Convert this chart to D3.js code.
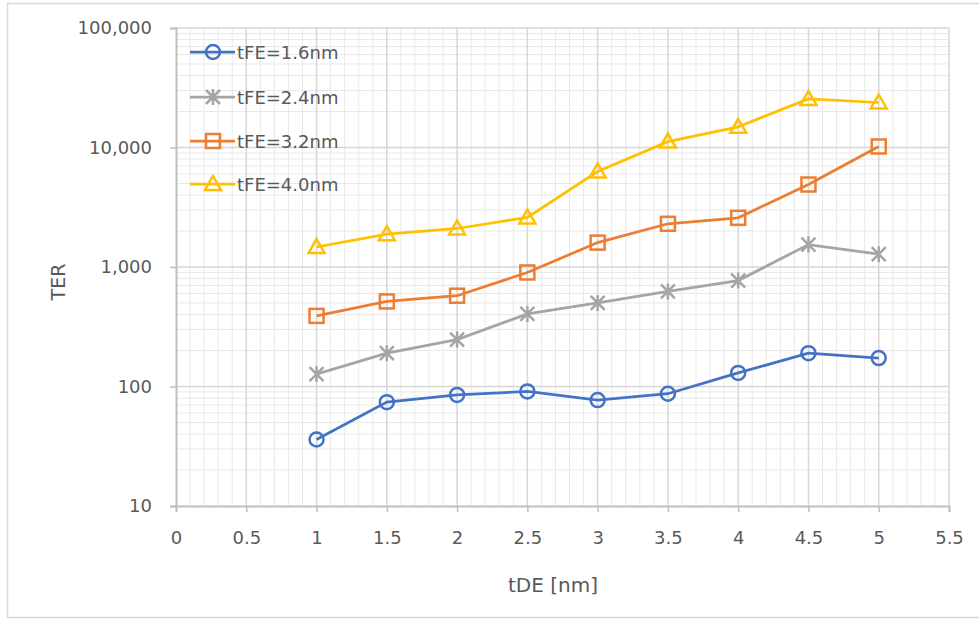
<!DOCTYPE html>
<html>
<head>
<meta charset="UTF-8">
<script src="https://d3js.org/d3.v7.min.js"></script>
<style>
  body { margin: 0; background: #fff; }
  text { font-family: "DejaVu Sans", "Liberation Sans", sans-serif; fill: #595959; }
</style>
</head>
<body>
<svg width="979" height="619"></svg>
<script>
// chart values
const xValues = [1, 1.5, 2, 2.5, 3, 3.5, 4, 4.5, 5];
const seriesNames = ["tFE=1.6nm", "tFE=2.4nm", "tFE=3.2nm", "tFE=4.0nm"];
const ter16 = [36, 74, 85, 91, 77, 87, 130, 190, 173];
const ter24 = [127, 190, 247, 405, 500, 625, 770, 1540, 1280];
const ter32 = [390, 515, 575, 900, 1600, 2300, 2580, 4900, 10200];
const ter40 = [1470, 1880, 2100, 2600, 6300, 11200, 14900, 25500, 23800];
const xTicks = [0, 0.5, 1, 1.5, 2, 2.5, 3, 3.5, 4, 4.5, 5, 5.5];
const yTicks = [10, 100, 1000, 10000, 100000];

const colors = ["#4472C4", "#A5A5A5", "#ED7D31", "#FFC000"];
const shapes = ["circle", "star", "square", "triangle"];
const allSeries = [ter16, ter24, ter32, ter40];

const svg = d3.select("svg");
const fontFam = "'DejaVu Sans', 'Liberation Sans', sans-serif";

// outer chart frame
svg.append("rect")
  .attr("x", 7.5).attr("y", 3.5)
  .attr("width", 990).attr("height", 614)
  .attr("fill", "none").attr("stroke", "#d9d9d9").attr("stroke-width", 1.5);

const pLeft = 176, pRight = 949, pTop = 28, pBottom = 506;
const x = d3.scaleLinear().domain([0, 5.5]).range([pLeft, pRight]);
const y = d3.scaleLog().domain([10, 100000]).range([pBottom, pTop]);

const grid = svg.append("g");
// minor grid
const minorX = d3.range(0, 55).map(i => i / 10).filter(v => Math.round(v * 10) % 5 != 0);
grid.selectAll(".mx").data(minorX).enter().append("line")
  .attr("x1", d => x(d)).attr("x2", d => x(d))
  .attr("y1", pTop).attr("y2", pBottom)
  .attr("stroke", "#e9e9e9").attr("stroke-width", 1);
let minorY = [];
[10, 100, 1000, 10000].forEach(dec => {
  for (let k = 2; k <= 9; k++) minorY.push(dec * k);
});
grid.selectAll(".my").data(minorY).enter().append("line")
  .attr("x1", pLeft).attr("x2", pRight)
  .attr("y1", d => y(d)).attr("y2", d => y(d))
  .attr("stroke", "#e9e9e9").attr("stroke-width", 1);
// major grid
grid.selectAll(".MX").data(xTicks.slice(1)).enter().append("line")
  .attr("x1", d => x(d)).attr("x2", d => x(d))
  .attr("y1", pTop).attr("y2", pBottom)
  .attr("stroke", "#d6d6d6").attr("stroke-width", 1.5);
grid.selectAll(".MY").data(yTicks.slice(1)).enter().append("line")
  .attr("x1", pLeft).attr("x2", pRight)
  .attr("y1", d => y(d)).attr("y2", d => y(d))
  .attr("stroke", "#d6d6d6").attr("stroke-width", 1.5);

// axes
const xAxis = svg.append("g")
  .attr("transform", "translate(0," + pBottom + ")")
  .call(d3.axisBottom(x).tickValues(xTicks).tickSize(6).tickPadding(19)
    .tickFormat(d => "" + d));
const yAxis = svg.append("g")
  .attr("transform", "translate(" + pLeft + ",0)")
  .call(d3.axisLeft(y).tickValues(yTicks).tickSize(6).tickPadding(18)
    .tickFormat(d3.format(",")));
[xAxis, yAxis].forEach(a => {
  a.select(".domain").attr("stroke", "#bfbfbf").attr("stroke-width", 2);
  a.selectAll(".tick line").attr("stroke", "#bfbfbf").attr("stroke-width", 1.5);
  a.selectAll("text").attr("font-size", 18).attr("fill", "#595959")
    .style("font-family", fontFam);
});

// axis titles
svg.append("text").attr("x", 553).attr("y", 592)
  .attr("text-anchor", "middle").attr("font-size", 20).text("tDE [nm]");
svg.append("text")
  .attr("transform", "translate(65,282) rotate(-90)")
  .attr("text-anchor", "middle").attr("font-size", 19).text("TER");

function drawMarker(g, shape, color) {
  if (shape == "circle") {
    g.append("circle").attr("r", 7).attr("fill", "none")
      .attr("stroke", color).attr("stroke-width", 2.5);
  } else if (shape == "square") {
    g.append("rect").attr("x", -7).attr("y", -7).attr("width", 14).attr("height", 14)
      .attr("fill", "none").attr("stroke", color).attr("stroke-width", 2.5);
  } else if (shape == "triangle") {
    g.append("path").attr("d", "M0,-8L8,6L-8,6Z")
      .attr("fill", "none").attr("stroke", color).attr("stroke-width", 2.5);
  } else {
    g.append("path").attr("d", "M-7,-7L7,7M-7,7L7,-7M0,-8L0,8")
      .attr("fill", "none").attr("stroke", color).attr("stroke-width", 2.5);
  }
}

const line = d3.line().x(d => x(d[0])).y(d => y(d[1]));

allSeries.forEach((vals, i) => {
  const pts = xValues.map((xv, j) => [xv, vals[j]]);
  svg.append("path").datum(pts)
    .attr("d", line).attr("fill", "none")
    .attr("stroke", colors[i]).attr("stroke-width", 2.75);
  pts.forEach(p => {
    const g = svg.append("g").attr("transform", "translate(" + x(p[0]) + "," + y(p[1]) + ")");
    drawMarker(g, shapes[i], colors[i]);
  });
});

// legend
const legendY = [52, 97, 141, 184];
seriesNames.forEach((name, i) => {
  const g = svg.append("g").attr("transform", "translate(0," + legendY[i] + ")");
  g.append("line").attr("x1", 190).attr("x2", 235).attr("y1", 0).attr("y2", 0)
    .attr("stroke", colors[i]).attr("stroke-width", 2.75);
  const m = g.append("g").attr("transform", "translate(213,0)");
  drawMarker(m, shapes[i], colors[i]);
  g.append("text").attr("x", 237).attr("y", 6.5).attr("font-size", 18).text(name);
});
</script>
</body>
</html>
